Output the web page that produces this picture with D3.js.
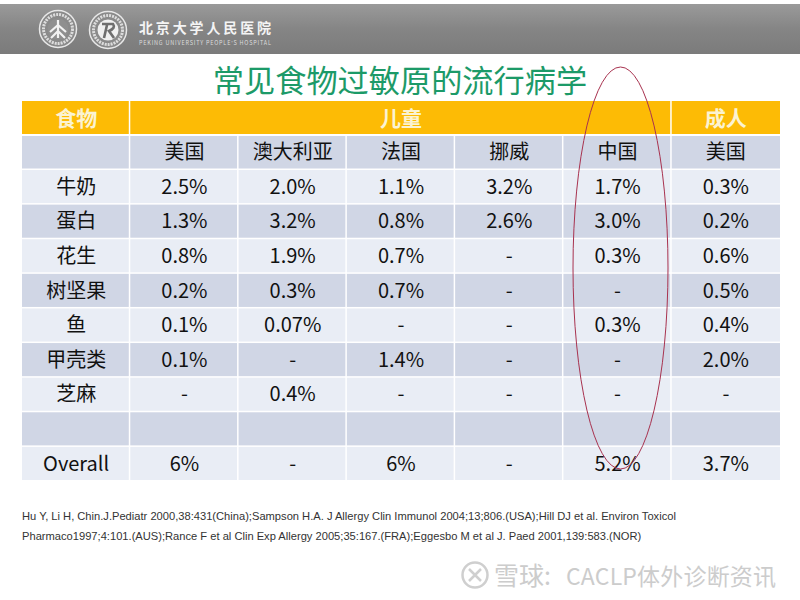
<!DOCTYPE html>
<html>
<head>
<meta charset="utf-8">
<script src="https://cdn.jsdelivr.net/npm/d3@7"></script>
<style>
html, body { margin: 0; padding: 0; background: #fff; }
svg { display: block; }
text { font-family: "Noto Sans CJK SC", "Noto Sans", sans-serif; }
</style>
</head>
<body>
<script>
const title = "常见食物过敏原的流行病学";
const groupHeaders = [
    {label: "食物", from: 0, to: 0},
    {label: "儿童", from: 1, to: 5},
    {label: "成人", from: 6, to: 6}
];
const countries = ["", "美国", "澳大利亚", "法国", "挪威", "中国", "美国"];
const foods = ["牛奶", "蛋白", "花生", "树坚果", "鱼", "甲壳类", "芝麻", "", "Overall"];
const usChild = ["2.5%", "1.3%", "0.8%", "0.2%", "0.1%", "0.1%", "-", "", "6%"];
const australia = ["2.0%", "3.2%", "1.9%", "0.3%", "0.07%", "-", "0.4%", "", "-"];
const france = ["1.1%", "0.8%", "0.7%", "0.7%", "-", "1.4%", "-", "", "6%"];
const norway = ["3.2%", "2.6%", "-", "-", "-", "-", "-", "", "-"];
const china = ["1.7%", "3.0%", "0.3%", "-", "0.3%", "-", "-", "", "5.2%"];
const usAdult = ["0.3%", "0.2%", "0.6%", "0.5%", "0.4%", "2.0%", "-", "", "3.7%"];
const columns = [foods, usChild, australia, france, norway, china, usAdult];
const refs = [
    "Hu Y, Li H, Chin.J.Pediatr 2000,38:431(China);Sampson H.A. J Allergy Clin Immunol 2004;13;806.(USA);Hill DJ et al. Environ Toxicol",
    "Pharmaco1997;4:101.(AUS);Rance F et al Clin Exp Allergy 2005;35:167.(FRA);Eggesbo M et al J. Paed 2001,139:583.(NOR)"
];

const width = 800, height = 600;
const svg = d3.select("body").append("svg")
    .attr("width", width)
    .attr("height", height);

// header band
const grad = svg.append("defs").append("linearGradient")
    .attr("id", "band").attr("x1", 0).attr("x2", 0).attr("y1", 0).attr("y2", 1);
grad.append("stop").attr("offset", 0).attr("stop-color", "#9a9a9a");
grad.append("stop").attr("offset", 0.5).attr("stop-color", "#858585");
grad.append("stop").attr("offset", 1).attr("stop-color", "#7b7b7b");
svg.append("rect").attr("x", 0).attr("y", 4).attr("width", width).attr("height", 50).attr("fill", "url(#band)");

// logos
const logos = svg.append("g");
[[58, 29], [108, 30]].forEach(l => {
    logos.append("circle").attr("cx", l[0]).attr("cy", l[1]).attr("r", 18.5)
        .attr("fill", "#8a8a8a").attr("stroke", "#e8e8e8").attr("stroke-width", 1.5);
    logos.append("circle").attr("cx", l[0]).attr("cy", l[1]).attr("r", 14.5)
        .attr("fill", "none").attr("stroke", "#dddddd").attr("stroke-width", 3).attr("stroke-dasharray", "2 1");
});
logos.append("circle").attr("cx", 58).attr("cy", 29).attr("r", 10.5).attr("fill", "#8f8f8f");
logos.append("path")
    .attr("d", "M58 20V38M58 25L50 32M58 25L66 32M58 31L51 38M58 31L65 38")
    .attr("fill", "none").attr("stroke", "#f2f2f2").attr("stroke-width", 2.2);
logos.append("circle").attr("cx", 108).attr("cy", 30).attr("r", 10.5).attr("fill", "#f0f0f0");
logos.append("path")
    .attr("d", "M102 24H113Q116 28 109 31L114 38M107 25L104 38")
    .attr("fill", "none").attr("stroke", "#6f6f6f").attr("stroke-width", 2.6);
svg.append("text").attr("x", 139).attr("y", 33).attr("font-size", 14).attr("font-weight", 700)
    .attr("fill", "#f4f4f4").attr("textLength", 132).text("北京大学人民医院");
svg.append("text").attr("x", 139).attr("y", 45).attr("font-size", 5.5).attr("fill", "#dcdcdc")
    .attr("textLength", 132).text("PEKING UNIVERSITY PEOPLE'S HOSPITAL");

// title
svg.append("text").attr("x", 400).attr("y", 92).attr("text-anchor", "middle")
    .attr("font-size", 31.2).attr("fill", "#1c9a68").text(title);

// table
const x = d3.scaleBand().domain(d3.range(countries.length)).range([22, 780]);
const y = d3.scaleBand().domain(d3.range(foods.length)).range([170, 481.5]);
const gap = 1.5;

const colorRow = i => i % 2 === 0 ? "#e9edf5" : "#d0d6e5";

const g = svg.append("g");

g.selectAll(".group")
    .data(groupHeaders)
    .enter().append("rect")
    .attr("x", d => x(d.from))
    .attr("y", 101)
    .attr("width", d => x(d.to) + x.bandwidth() - x(d.from) - (d.to < 6 ? gap : 0))
    .attr("height", 33)
    .attr("fill", "#fdbb05");

g.selectAll(".group-label")
    .data(groupHeaders)
    .enter().append("text")
    .attr("x", d => (x(d.from) + x(d.to) + x.bandwidth()) / 2)
    .attr("y", 126)
    .attr("text-anchor", "middle")
    .attr("font-size", 21)
    .attr("font-weight", 700)
    .attr("fill", "#fbf3d2")
    .text(d => d.label);

g.selectAll(".country")
    .data(countries)
    .enter().append("rect")
    .attr("x", (d, i) => x(i))
    .attr("y", 136)
    .attr("width", (d, i) => x.bandwidth() - (i < 6 ? gap : 0))
    .attr("height", 32.5)
    .attr("fill", "#d0d6e5");

g.selectAll(".country-label")
    .data(countries)
    .enter().append("text")
    .attr("x", (d, i) => x(i) + x.bandwidth() / 2)
    .attr("y", 159)
    .attr("text-anchor", "middle")
    .attr("font-size", 20)
    .attr("fill", "#111")
    .text(d => d);

columns.forEach((col, c) => {
    const cells = g.append("g");
    cells.selectAll("rect")
        .data(col)
        .enter().append("rect")
        .attr("x", x(c))
        .attr("y", (d, i) => y(i))
        .attr("width", x.bandwidth() - (c < 6 ? gap : 0))
        .attr("height", y.bandwidth() - gap)
        .attr("fill", (d, i) => colorRow(i));
    cells.selectAll("text")
        .data(col)
        .enter().append("text")
        .attr("x", x(c) + x.bandwidth() / 2)
        .attr("y", (d, i) => y(i) + y.bandwidth() / 2 + 6.5)
        .attr("text-anchor", "middle")
        .attr("font-size", 20)
        .attr("fill", "#111")
        .text(d => d);
});

// red ellipse round the China column
svg.append("ellipse")
    .attr("cx", 620.5).attr("cy", 268).attr("rx", 47.5).attr("ry", 201)
    .attr("fill", "none").attr("stroke", "#a8324f").attr("stroke-width", 1);

// references
svg.selectAll(".ref")
    .data(refs)
    .enter().append("text")
    .attr("x", 22)
    .attr("y", (d, i) => 520 + i * 20)
    .style("font-family", "'Liberation Sans'")
    .attr("font-size", 11.15)
    .attr("fill", "#333")
    .text(d => d);

// watermark
const mark = svg.append("g").attr("stroke", "#cfcfcf").attr("fill", "none").attr("stroke-width", 2.5);
mark.append("circle").attr("cx", 475).attr("cy", 575).attr("r", 12.5);
mark.append("path").attr("d", "M469 569L481 581M481 569L469 581");
svg.append("text").attr("x", 494).attr("y", 585).attr("font-size", 25).attr("fill", "#cccccc").text("雪球:");
svg.append("text").attr("x", 566).attr("y", 585).attr("font-size", 23).attr("fill", "#cccccc")
    .attr("textLength", 210).text("CACLP体外诊断资讯");
</script>
</body>
</html>
